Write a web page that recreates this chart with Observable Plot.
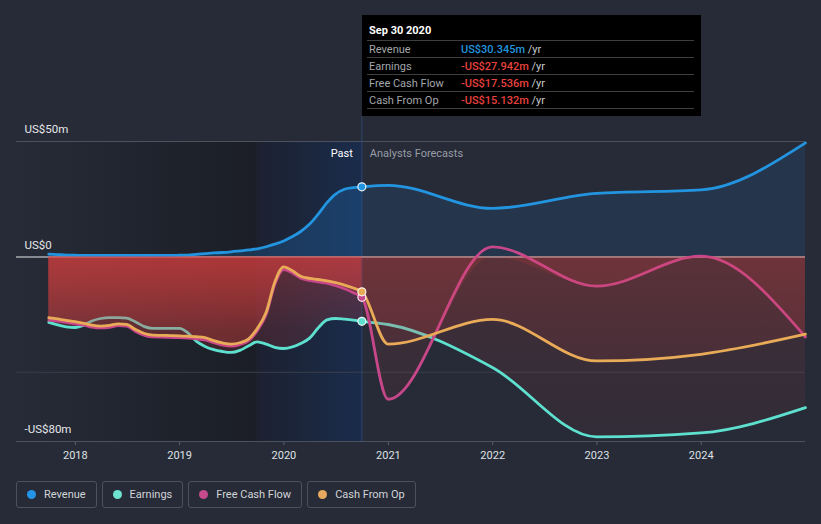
<!DOCTYPE html>
<html>
<head>
<meta charset="utf-8">
<script src="https://cdn.jsdelivr.net/npm/d3@7"></script>
<script src="https://cdn.jsdelivr.net/npm/@observablehq/plot@0.6"></script>
<style>
  html, body { margin: 0; padding: 0; background: #262b37; }
  #wrap { position: relative; width: 821px; height: 524px; overflow: hidden; font-family: Roboto, "Noto Sans", sans-serif; }
  #chart { position: absolute; left: 0; top: 0; }
  #tip { position: absolute; left: 362px; top: 15px; width: 339px; height: 101px; background: #000; font-size: 11px; }
  #tip .title { position: absolute; left: 7px; top: 9px; line-height: 14px; color: #fff; font-weight: bold; }
  #tip .row { position: absolute; left: 5px; width: 327px; height: 17px; line-height: 17px; border-top: 1px solid #3e3e3e; box-sizing: border-box; }
  #tip .lab { position: absolute; left: 2px; top: 0; color: #a3a6ab; }
  #tip .val { position: absolute; left: 94px; top: 0; font-weight: 500; }
  #tip .unit { color: #c9cbce; font-weight: 400; }
  #tip .end { position: absolute; left: 5px; width: 327px; top: 93px; border-top: 1px solid #3e3e3e; }
  #legend { position: absolute; left: 16px; top: 481px; display: flex; gap: 5px; }
  #legend .item { height: 27px; box-sizing: border-box; border: 1px solid #4b515d; border-radius: 3px; padding: 0 10px 0 10px; display: flex; align-items: center; gap: 8px; font-size: 11px; color: #d2d4d8; }
  #legend .dot { width: 9px; height: 9px; border-radius: 50%; }
</style>
</head>
<body>
<div id="wrap">
  <div id="chart"></div>
  <div id="tip"></div>
  <div id="legend"></div>
</div>
<script>
// ---------------- data ----------------
const pastDates = ["2017-09-30","2017-10-31","2017-11-30","2017-12-31","2018-01-31","2018-02-28","2018-03-31","2018-04-30","2018-05-31","2018-06-30","2018-07-31","2018-08-31","2018-09-30","2018-10-31","2018-11-30","2018-12-31","2019-01-31","2019-02-28","2019-03-31","2019-04-30","2019-05-31","2019-06-30","2019-07-31","2019-08-31","2019-09-30","2019-10-31","2019-11-30","2019-12-31","2020-01-31","2020-02-29","2020-03-31","2020-04-30","2020-05-31","2020-06-30","2020-07-31","2020-08-31","2020-09-30"];
const forecastDates = ["2020-12-31","2021-12-31","2022-12-31","2023-12-31","2024-12-31"];

const revenuePast = [1.2,1.0,0.8,0.7,0.6,0.6,0.6,0.6,0.6,0.6,0.6,0.6,0.6,0.6,0.6,0.7,0.8,1.1,1.4,1.7,1.9,2.2,2.6,3.0,3.5,4.4,5.5,6.9,8.8,11.0,14.2,18.5,23.5,27.2,29.3,30.0,30.345];
const revenueForecast = [31.0,21.0,27.5,29.0,49.4];

const earningsPast = [-28.4,-29.5,-30.3,-30.6,-29.6,-27.8,-26.7,-26.3,-26.3,-26.5,-28.2,-30.2,-31.0,-31.0,-31.0,-31.0,-33.0,-36.5,-38.8,-40.2,-41.0,-41.4,-40.5,-38.5,-36.8,-37.8,-39.2,-39.7,-39.0,-37.5,-35.2,-30.8,-27.3,-26.7,-27.0,-27.4,-27.942];
const earningsForecast = [-29.3,-47.9,-78.0,-76.3,-65.3];

const fcfPast = [-27.4,-27.8,-28.4,-29.0,-29.6,-30.4,-30.8,-30.5,-29.8,-30.0,-32.3,-34.0,-34.7,-34.8,-34.9,-35.0,-35.2,-35.5,-36.0,-37.2,-38.2,-38.7,-38.0,-36.3,-32.0,-25.0,-12.0,-5.5,-7.0,-9.2,-10.2,-10.8,-11.4,-12.5,-13.8,-15.5,-17.536];
const fcfForecast = [-61.7,4.3,-12.7,0.3,-34.7];

const cfoPast = [-26.3,-26.9,-27.5,-28.1,-28.8,-29.6,-30.0,-29.7,-29.0,-29.2,-31.5,-33.2,-33.9,-34.0,-34.1,-34.2,-34.4,-34.6,-35.0,-36.3,-37.3,-37.8,-37.2,-35.5,-31.0,-24.0,-11.0,-4.3,-6.0,-8.4,-9.3,-9.8,-10.4,-11.2,-12.2,-13.5,-15.132];
const cfoForecast = [-37.8,-27.1,-45.1,-42.2,-33.5];

const seriesNames = ["Revenue","Earnings","Free Cash Flow","Cash From Op"];
const seriesColors = ["#2394df","#5ee0cf","#c8478a","#e9ab57"];
const legendColors = ["#2394e8","#6de3d2","#c54b8c","#e6a85c"];

const yearTicks = ["2018-01-01","2019-01-01","2020-01-01","2021-01-01","2022-01-01","2023-01-01","2024-01-01"];
const yTickValues = [50, 0, -80];
const yTickLabels = ["US$50m","US$0","-US$80m"];
const gridValues = [50, -50, -80];
const xDomainDates = ["2017-06-09","2024-12-31"];
const pastBandStartDate = "2019-09-30";
const presentDate = "2020-09-30";

const tooltipTitle = "Sep 30 2020";
const tooltipValues = ["US$30.345m","-US$27.942m","-US$17.536m","-US$15.132m"];
const tooltipColors = ["#2394df","#e8413e","#e8413e","#e8413e"];

// ---------------- build ----------------
const D = s => new Date(s + "T00:00:00Z");
const allDates = pastDates.concat(forecastDates).map(D);
const mk = (p, f) => allDates.map((d, i) => ({date: d, v: i < p.length ? p[i] : f[i - p.length]}));
const revenue = mk(revenuePast, revenueForecast);
const earnings = mk(earningsPast, earningsForecast);
const fcf = mk(fcfPast, fcfForecast);
const cfo = mk(cfoPast, cfoForecast);
const present = D(presentDate);
const xDomain = xDomainDates.map(D);

// areas are added in pairs: [past version, forecast version]; clipped after rendering by order
function negSeries(data, color) {
  return [
    Plot.areaY(data, {x: "date", y1: 0, y2: d => Math.min(d.v, 0), curve: "monotone-x", fill: "url(#redPast)"}),
    Plot.areaY(data, {x: "date", y1: 0, y2: d => Math.min(d.v, 0), curve: "monotone-x", fill: "url(#redFcst)"}),
    Plot.line(data, {x: "date", y: "v", curve: "monotone-x", stroke: color, strokeWidth: 2.8})
  ];
}

const nowIndex = pastDates.length - 1;
const dotMark = (data, color) => Plot.dot([data[nowIndex]], {x: "date", y: "v", r: 4, fill: color, stroke: "#ffffff", strokeWidth: 1.2, strokeOpacity: 0.9});

const plot = Plot.plot({
  width: 821, height: 470,
  marginLeft: 16, marginRight: 16, marginTop: 141, marginBottom: 29,
  x: {type: "utc", domain: xDomain, ticks: yearTicks.map(D), tickFormat: "%Y", tickSize: 4, tickPadding: 6, label: null},
  y: {domain: [-80, 50], axis: null, label: null},
  style: {background: "transparent", color: "#dfe1e4", fontFamily: "Roboto, sans-serif", fontSize: "11px"},
  marks: [
    Plot.rect([{a: xDomain[0], b: D(pastBandStartDate)}], {x1: "a", x2: "b", y1: -80, y2: 50, fill: "url(#bgPast)"}),
    Plot.rect([{a: D(pastBandStartDate), b: present}], {x1: "a", x2: "b", y1: -80, y2: 50, fill: "url(#bgBand)"}),
    Plot.ruleY(gridValues.filter(v => v !== -50), {y: d => d, stroke: "#4b515d", strokeWidth: 1}),
    Plot.ruleY(gridValues.filter(v => v === -50), {y: d => d, stroke: "#3a3f4b", strokeWidth: 1}),
    Plot.ruleX([present], {x: d => d, y1: -80, y2: 61, stroke: "#2b4670", strokeWidth: 1}),
    Plot.areaY(revenue, {x: "date", y1: 0, y2: "v", curve: "monotone-x", fill: "#1e88e5", fillOpacity: 0.22}),
    Plot.areaY(revenue, {x: "date", y1: 0, y2: "v", curve: "monotone-x", fill: "#1e88e5", fillOpacity: 0.12}),
    Plot.ruleY([0], {y: d => d, stroke: "#a9abb0", strokeWidth: 1.5}),
    Plot.line(revenue, {x: "date", y: "v", curve: "monotone-x", stroke: seriesColors[0], strokeWidth: 2.8}),
    ...negSeries(earnings, seriesColors[1]),
    ...negSeries(fcf, seriesColors[2]),
    ...negSeries(cfo, seriesColors[3]),
    dotMark(revenue, seriesColors[0]),
    dotMark(earnings, seriesColors[1]),
    dotMark(fcf, seriesColors[2]),
    dotMark(cfo, seriesColors[3]),
    Plot.text(yTickValues.map((v, i) => ({v, t: yTickLabels[i]})), {x: () => xDomain[0], y: "v", text: "t", dx: 8, dy: -12, textAnchor: "start", fill: "#e6e7ea", fontSize: 11.5}),
    Plot.text([{d: present, t: "Past"}], {x: "d", y: () => 50, text: "t", dx: -9, dy: 12, textAnchor: "end", fill: "#ffffff", fontSize: 11}),
    Plot.text([{d: present, t: "Analysts Forecasts"}], {x: "d", y: () => 50, text: "t", dx: 8, dy: 12, textAnchor: "start", fill: "#989ca5", fontSize: 11})
  ]
});

document.getElementById("chart").appendChild(plot);

const svg = plot.tagName.toLowerCase() === "svg" ? plot : plot.querySelector("svg");
const X = plot.scale("x"), Y = plot.scale("y");
const sel = d3.select(svg);
const defs = sel.insert("defs", ":first-child");
function lg(id, stops, attrs) {
  const g = defs.append("linearGradient").attr("id", id);
  for (const k in attrs) g.attr(k, attrs[k]);
  stops.forEach(([o, c, a]) => g.append("stop").attr("offset", o).attr("stop-color", c).attr("stop-opacity", a));
}
lg("bgPast", [[0, "#262b37", 1], [1, "#1b1e26", 1]], {x1: 0, x2: 1, y1: 0, y2: 0});
lg("bgBand", [[0, "#1c2130", 1], [1, "#1a2c4b", 1]], {x1: 0, x2: 1, y1: 0, y2: 0});
const y0 = Y.apply(0), y80 = Y.apply(-80);
lg("redPast", [[0, "#e2403e", 0.35], [0.4, "#e2403e", 0.17], [1, "#e2403e", 0.08]], {gradientUnits: "userSpaceOnUse", x1: 0, x2: 0, y1: y0, y2: y80});
lg("redFcst", [[0, "#e2403e", 0.15], [1, "#e2403e", 0.055]], {gradientUnits: "userSpaceOnUse", x1: 0, x2: 0, y1: y0, y2: y80});
const xp = X.apply(present);
defs.append("clipPath").attr("id", "clipPast").append("rect").attr("x", 0).attr("y", 0).attr("width", xp).attr("height", 470);
defs.append("clipPath").attr("id", "clipFcst").append("rect").attr("x", xp).attr("y", 0).attr("width", 821 - xp).attr("height", 470);
sel.selectAll('g[aria-label="area"]').each(function(_, i) {
  this.setAttribute("clip-path", i % 2 === 0 ? "url(#clipPast)" : "url(#clipFcst)");
});
sel.selectAll('[aria-label^="x-axis"] line, [aria-label^="x-axis"] path').attr("stroke", "#5a606c");

// tooltip
const tip = document.getElementById("tip");
const t = document.createElement("div"); t.className = "title"; t.textContent = tooltipTitle; tip.appendChild(t);
seriesNames.forEach((name, i) => {
  const row = document.createElement("div"); row.className = "row"; row.style.top = (25 + i * 17) + "px";
  const lab = document.createElement("span"); lab.className = "lab"; lab.textContent = name;
  const val = document.createElement("span"); val.className = "val"; val.style.color = tooltipColors[i];
  val.textContent = tooltipValues[i];
  const unit = document.createElement("span"); unit.className = "unit"; unit.textContent = " /yr";
  val.appendChild(unit);
  row.appendChild(lab); row.appendChild(val); tip.appendChild(row);
});
const end = document.createElement("div"); end.className = "end"; tip.appendChild(end);

// legend
const legend = document.getElementById("legend");
seriesNames.forEach((name, i) => {
  const it = document.createElement("div"); it.className = "item";
  const dot = document.createElement("span"); dot.className = "dot"; dot.style.background = legendColors[i];
  const lab = document.createElement("span"); lab.textContent = name;
  it.appendChild(dot); it.appendChild(lab); legend.appendChild(it);
});
</script>
</body>
</html>
